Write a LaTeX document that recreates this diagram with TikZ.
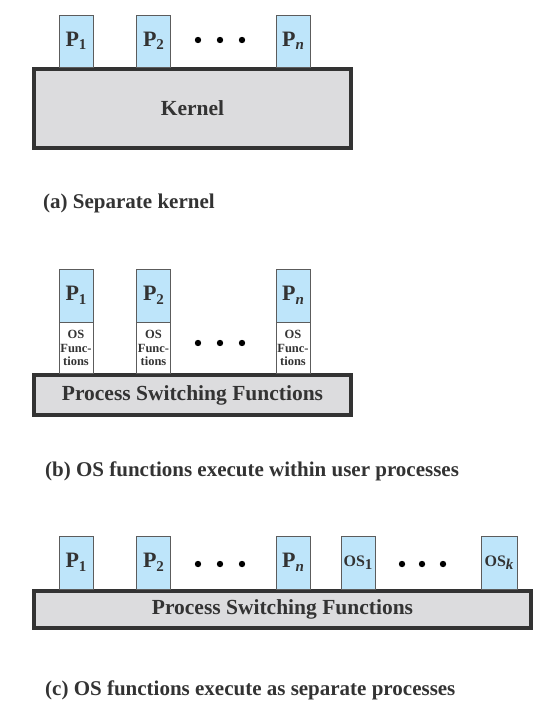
\documentclass[tikz,border=0pt]{standalone}
\usepackage{fontspec}
\setmainfont{Liberation Serif}
\usetikzlibrary{positioning}
\definecolor{procblue}{HTML}{BEE5FA}
\definecolor{kerngray}{HTML}{DCDCDE}
\definecolor{inkgray}{HTML}{333333}
\newcommand{\psub}[1]{\raisebox{-0.35ex}{\fontsize{15}{15}\selectfont #1}}
\tikzset{
  pbox/.style={draw=inkgray!80, fill=procblue, line width=.9pt, inner sep=0pt,
    minimum width=34pt, minimum height=53pt, text=inkgray,
    font=\bfseries\fontsize{22}{22}\selectfont},
  osfunc/.style={draw=inkgray!80, fill=white, line width=.9pt, inner sep=0pt,
    minimum width=34pt, minimum height=51pt, align=center, text=inkgray,
    font=\bfseries\fontsize{12.5}{13.5}\selectfont},
  kbox/.style={draw=inkgray, fill=kerngray, line width=4pt, inner sep=0pt,
    text=inkgray, font=\bfseries\fontsize{21.5}{21.5}\selectfont},
  caption/.style={anchor=west, inner sep=0pt, text=inkgray,
    font=\bfseries\fontsize{21}{25}\selectfont}
}

\begin{document}
\begin{tikzpicture}[x=1pt,y=-1pt]
\useasboundingbox (0,0) rectangle (557,709);
% (a) separate kernel
\node[kbox, minimum width=317pt, minimum height=79pt] (kern) at (192.5,108.5) {Kernel};
\node[pbox, minimum height=52pt] (a1) at (76,41) {P\psub{1}};
\node[pbox, minimum height=52pt] (a2) at (153.5,41) {P\psub{2}};
\node[pbox, minimum height=52pt] (an) at (293,41) {P\psub{\textit{n}}};
\foreach \x in {198,220,242} \fill[black] (\x,40) circle(3.2pt);
\node[caption] (capa) at (43,203) {(a) Separate kernel};

% (b) OS functions inside user processes
\node[kbox, minimum width=317pt, minimum height=40pt] (psfb) at (192.5,395) {Process Switching Functions};
\node[pbox] (b1) at (76,295.5) {P\psub{1}};
\node[pbox] (b2) at (153.5,295.5) {P\psub{2}};
\node[pbox] (bn) at (293,295.5) {P\psub{\textit{n}}};
\foreach \p in {b1,b2,bn}
  \node[osfunc, below=0pt of \p] (\p os) {OS\\Func-\\tions};
\foreach \x in {198,220,242} \fill[black] (\x,343) circle(3.2pt);
\node[caption] (capb) at (45,471) {(b) OS functions execute within user processes};

% (c) OS functions as separate processes
\node[kbox, minimum width=497pt, minimum height=37pt] (psfc) at (282.5,609.5) {Process Switching Functions};
\node[pbox] (c1) at (76,562.5) {P\psub{1}};
\node[pbox] (c2) at (153.5,562.5) {P\psub{2}};
\node[pbox] (cn) at (293,562.5) {P\psub{\textit{n}}};
\node[pbox, font=\bfseries\fontsize{16}{16}\selectfont] (os1) at (358,562.5) {OS\psub{1}};
\node[pbox, minimum width=36pt, font=\bfseries\fontsize{16}{16}\selectfont] (osk) at (499,562.5) {OS\psub{\textit{k}}};
\foreach \x in {198,220,242,402,422,443} \fill[black] (\x,564) circle(3.2pt);
\node[caption] (capc) at (45,690) {(c) OS functions execute as separate processes};
\end{tikzpicture}
\end{document}
